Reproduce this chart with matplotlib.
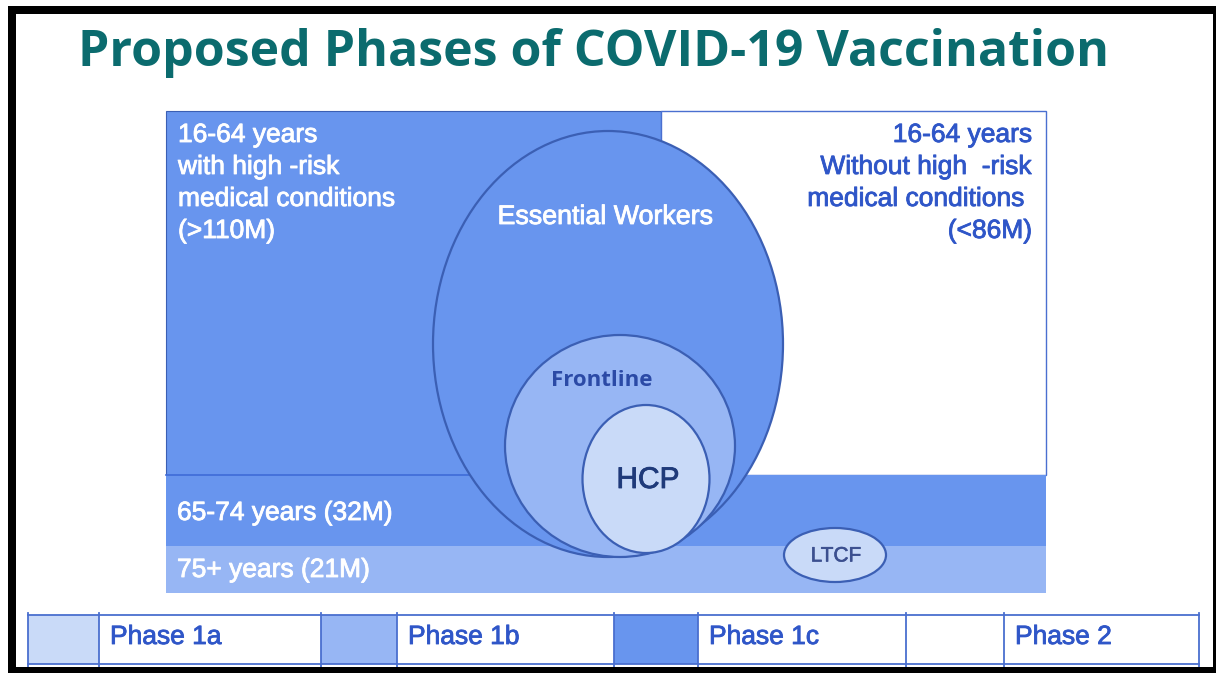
import matplotlib.pyplot as plt
import matplotlib.patheffects as pe
from matplotlib.patches import Rectangle, Ellipse

# Population groups (millions) and labels
group_labels = ['16-64 years\nwith high -risk\nmedical conditions\n(>110M)',
                '16-64 years\nWithout high  -risk\nmedical conditions \n(<86M)',
                '65-74 years (32M)',
                '75+ years (21M)']
group_millions = [110, 86, 32, 21]
circle_labels = ['Essential Workers', 'Frontline', 'HCP', 'LTCF']

# Phases and their colours
phases = ['Phase 1a', 'Phase 1b', 'Phase 1c', 'Phase 2']
phase_colors = ['#c9daf8', '#97b6f4', '#6895ee', '#ffffff']

title = 'Proposed Phases of COVID-19 Vaccination'

edge = '#3b5fb4'
text_blue = '#2f56c8'


def thick(c, w=0.6):
    # screenshot text looks a bit heavier than plain Arial
    return [pe.withStroke(linewidth=w, foreground=c)]


W, H = 1216, 673
fig = plt.figure(figsize=(W / 100, H / 100), dpi=100)
fig.patch.set_facecolor('white')
ax = fig.add_axes([0, 0, 1, 1])
ax.set_xlim(0, W)
ax.set_ylim(H, 0)
ax.axis('off')

# black frame of the screenshot
for x, y, w, h in [(8, 6, W - 8, 8), (8, 6, 8, H - 6), (8, 667, W - 8, 6), (1213, 6, 3, H - 6)]:
    ax.add_patch(Rectangle((x, y), w, h, facecolor='black', edgecolor='none', zorder=10))

ax.text(594, 53, title, ha='center', va='center', color='#0b6b6e',
        fontsize=36, fontweight='bold', family=['Open Sans', 'DejaVu Sans'])

# age group blocks
ax.add_patch(Rectangle((166, 111), 495, 364, facecolor=phase_colors[2], edgecolor=edge, lw=0.8, zorder=1))
ax.add_patch(Rectangle((661, 111), 385, 364, facecolor=phase_colors[3], edgecolor='#4a6fd0', lw=1.0, zorder=1))
ax.add_patch(Rectangle((166, 475), 880, 71, facecolor=phase_colors[2], edgecolor='none', zorder=2))
ax.add_patch(Rectangle((166, 546), 880, 47, facecolor=phase_colors[1], edgecolor='none', zorder=2))
ax.plot([166, 661], [475, 475], color='#3f6cd8', lw=1.2, zorder=2)

# nested ellipses
ax.add_patch(Ellipse((608, 344), 350, 426, facecolor=phase_colors[2], edgecolor=edge, lw=1.6, zorder=3))
ax.add_patch(Ellipse((620, 446), 230, 222, facecolor=phase_colors[1], edgecolor=edge, lw=1.6, zorder=4))
ax.add_patch(Ellipse((646, 479), 127, 148, facecolor=phase_colors[0], edgecolor=edge, lw=1.6, zorder=5))
ax.add_patch(Ellipse((835, 555), 102, 54, facecolor=phase_colors[0], edgecolor=edge, lw=1.6, zorder=5))

font = ['Liberation Sans', 'DejaVu Sans']
fs = 19
line_y = [135, 167, 199, 231]
for yy, line in zip(line_y, group_labels[0].split('\n')):
    ax.text(178, yy, line, ha='left', va='center', color='white', fontsize=fs, family=font,
            path_effects=thick('white'), zorder=6)
for yy, line in zip(line_y, group_labels[1].split('\n')):
    ax.text(1032, yy, line, ha='right', va='center', color=text_blue, fontsize=fs, family=font,
            path_effects=thick(text_blue), zorder=6)
ax.text(177, 513, group_labels[2], ha='left', va='center', color='white', fontsize=fs, family=font,
        path_effects=thick('white'), zorder=6)
ax.text(177, 570, group_labels[3], ha='left', va='center', color='white', fontsize=fs, family=font,
        path_effects=thick('white'), zorder=6)

ax.text(605, 217, circle_labels[0], ha='center', va='center', color='white', fontsize=19.3, family=font,
        path_effects=thick('white'), zorder=6)
ax.text(602, 381, circle_labels[1], ha='center', va='center', color='#2b4aa6', fontsize=16,
        fontweight='bold', family=['Open Sans', 'DejaVu Sans'], zorder=6)
ax.text(648, 480, circle_labels[2], ha='center', va='center', color='#1f3a7a', fontsize=21.5, family=font,
        path_effects=thick('#1f3a7a'), zorder=6)
ax.text(836, 556, circle_labels[3], ha='center', va='center', color='#3b4f8f', fontsize=15, family=font,
        path_effects=thick('#3b4f8f', 0.4), zorder=6)

# legend table
cells = [28, 99, 321, 397, 614, 698, 906, 1004, 1199]
top, bot = 615, 664
for i, name in enumerate(phases):
    x0, x1, x2 = cells[2 * i], cells[2 * i + 1], cells[2 * i + 2]
    ax.add_patch(Rectangle((x0, top), x1 - x0, bot - top, facecolor=phase_colors[i], edgecolor='none', zorder=1))
    ax.text(x1 + 11, 637, name, ha='left', va='center', color=text_blue, fontsize=19, family=font,
            path_effects=thick(text_blue), zorder=6)
ax.plot([cells[0], cells[-1]], [top, top], color='#4a6fcf', lw=1.3, zorder=3)
ax.plot([cells[0], cells[-1]], [bot, bot], color='#4a6fcf', lw=1.3, zorder=3)
for cx in cells:
    ax.plot([cx, cx], [top - 2, bot + 3], color='#4a6fcf', lw=1.3, zorder=3)

fig.savefig('out.png', dpi=100, facecolor='white')
